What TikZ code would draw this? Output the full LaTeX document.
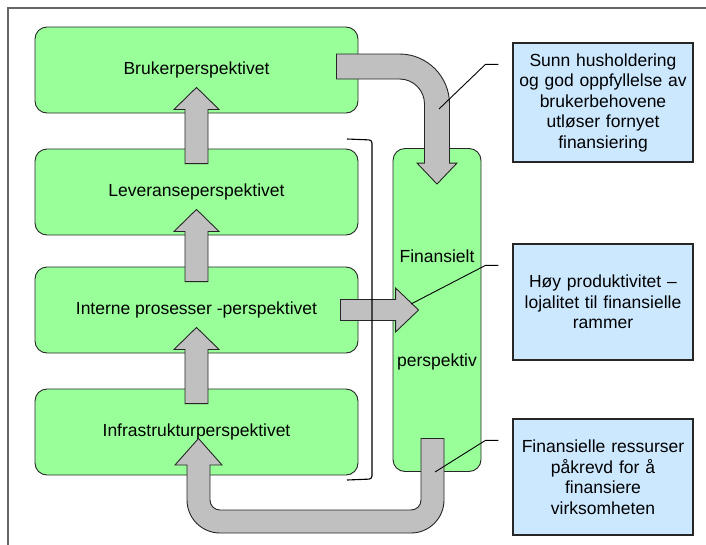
\documentclass[tikz,border=0pt]{standalone}
\usepackage{fontspec}
\setmainfont{Liberation Sans}
\usetikzlibrary{calc}
\definecolor{boxgreen}{HTML}{99FF99}
\definecolor{boxblue}{HTML}{CCE8FF}
\definecolor{arrowgray}{HTML}{C0C0C0}
\tikzset{
  persp/.style={draw=black!85, line width=0.9pt, rounded corners=12pt, fill=boxgreen, minimum width=323pt, minimum height=86pt, inner sep=0pt},
  note/.style={draw=black!85, line width=1.2pt, fill=boxblue, text width=172pt, inner xsep=4pt, align=center, minimum height=116pt},
  blockarr/.style={draw=black!85, fill=arrowgray, line width=0.9pt}
}
\begin{document}
\begin{tikzpicture}[x=1pt, y=-1pt, font=\fontsize{17.5}{20.5}\selectfont]
    \useasboundingbox (0,0) rectangle (706,544);
    % Draw frame
    \draw[line width=2pt, black!60] (8,560) -- (8,8) -- (720,8);

    % Draw nodes
    \node[persp] (bru) at (196.5,70) {Brukerperspektivet};
    \node[persp] (lev) at (196.5,192) {Leveranseperspektivet};
    \node[persp] (int) at (196.5,310) {Interne prosesser -perspektivet};
    \node[persp] (inf) at (196.5,432) {Infrastrukturperspektivet};
    \node[persp, minimum width=88pt, minimum height=323pt, align=center] (fin) at (437,310) {Finansielt\\[84pt]perspektiv};

    \node[note, minimum height=119pt] (b1) at (603,102.5) {Sunn husholdering\\og god oppfyllelse av\\brukerbehovene\\utløser fornyet\\finansiering};
    \node[note] (b2) at (603,302) {Høy produktivitet –\\lojalitet til finansielle\\rammer};
    \node[note] (b3) at (603,477) {Finansielle ressurser\\påkrevd for å\\finansiere\\virksomheten};

    % Draw arrows
    \foreach \lo/\up in {lev/bru, int/lev, inf/int}
        \draw[blockarr] ($(\lo.north)+(-11.5,15)$) -- ($(\up.south)+(-11.5,-4)$) -- ++(-11,0) -- ($(\up.south)+(0,-26)$) -- ($(\up.south)+(22.5,-4)$) -- ++(-11,0) -- ($(\lo.north)+(11.5,15)$) -- cycle;

    \draw[blockarr] ($(bru.east)+(-22,-16)$) -- (399.5,54) arc[start angle=90, end angle=0, radius=50pt] -- ($(fin.north)+(12.5,15)$) -- ++(7.5,0) -- ($(fin.north)+(0,36)$) -- ($(fin.north)+(-20,15)$) -- ++(7.5,0) -- (424.5,104) arc[start angle=0, end angle=90, radius=25pt] -- ($(bru.east)+(-22,9)$) -- cycle;

    \draw[blockarr] ($(int.east)+(-18,-10.5)$) -- ($(fin.west)+(3,-10.5)$) -- ++(0,-11.5) -- ($(fin.west)+(26,0)$) -- ($(fin.west)+(3,22)$) -- ++(0,-11.5) -- ($(int.east)+(-18,10.5)$) -- cycle;

    \draw[blockarr] ($(fin.south)+(-16,-33.5)$) -- (421,500) arc[start angle=0, end angle=-90, radius=10pt] -- (220,510) arc[start angle=-90, end angle=-180, radius=10pt] -- (210,465) -- (222,465) -- ($(inf.south)+(2,-37)$) -- (175,465) -- (187,465) -- (187,500) arc[start angle=180, end angle=270, radius=33pt] -- (411,533) arc[start angle=270, end angle=360, radius=33pt] -- ($(fin.south)+(7,-33.5)$) -- cycle;

    % Draw bracket
    \draw[line width=1.1pt, rounded corners=3pt] (347,139) -- (372,140) -- (372,479) -- (347,480);

    % Draw callouts
    \coordinate (c1) at (439,109);
    \coordinate (c2) at (411,304);
    \coordinate (c3) at (435,472);
    \foreach \b/\c in {b1/c1, b2/c2, b3/c3}
        \draw[line width=0.9pt] (\b.north west) ++(-14,22) -- ++(-13,0) -- (\c);
\end{tikzpicture}
\end{document}
